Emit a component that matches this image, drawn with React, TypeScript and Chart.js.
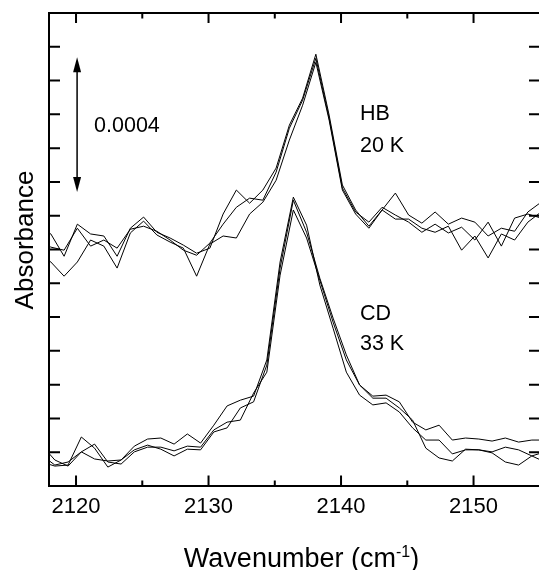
import React, { useEffect, useRef } from "react";
import { Chart, registerables } from "chart.js";

Chart.register(...registerables);

const FONT = "'Liberation Sans', Arial, Helvetica, sans-serif";

// HB spectra (20 K), absorbance in units of 1e-4
const hbWavenumbers = [
  2117.1, 2118.1, 2119.1, 2120.1, 2121.1, 2122.1, 2123.1, 2124.1, 2125.1, 2126.1,
  2127.1, 2128.1, 2129.1, 2130.1, 2131.1, 2132.1, 2133.1, 2134.1, 2135.1, 2136.1,
  2137.1, 2138.1, 2139.1, 2140.1, 2141.1, 2142.1, 2143.1, 2144.1, 2145.1, 2146.1,
  2147.1, 2148.1, 2149.1, 2150.1, 2151.1, 2152.1, 2153.1, 2154.1, 2155.1,
];
const hbScan1 = [
  7.72, 7.46, 6.8, 7.75, 7.46, 7.4, 6.8, 7.63, 7.96, 7.51,
  7.34, 7.13, 6.89, 7.04, 8.05, 8.76, 8.37, 8.76, 9.41, 10.68,
  11.48, 12.78, 10.98, 8.91, 8.17, 7.69, 8.17, 8.67, 8.02, 7.78,
  8.11, 7.75, 7.93, 7.81, 7.4, 7.63, 7.54, 8.11, 8.4,
];
const hbScan2 = [
  7.28, 7.07, 6.98, 7.63, 7.1, 7.28, 7.04, 7.6, 7.69, 7.54,
  7.28, 6.98, 6.83, 7.19, 7.75, 8.25, 8.52, 8.46, 9.29, 10.59,
  11.42, 12.66, 10.89, 8.82, 8.11, 7.81, 8.25, 8.02, 7.81, 7.51,
  7.75, 7.49, 7.66, 7.28, 7.81, 7.1, 7.93, 8.05, 7.93,
];
const hbScan3 = [
  6.98, 6.63, 6.21, 6.63, 7.28, 7.1, 6.45, 7.49, 7.84, 7.43,
  7.22, 7.04, 6.21, 7.16, 7.4, 7.34, 8.05, 8.4, 9.05, 10.24,
  11.27, 12.54, 10.83, 8.76, 8.05, 7.63, 8.17, 7.9, 7.9, 7.63,
  7.51, 7.69, 6.98, 7.4, 6.75, 7.46, 7.28, 7.81, 8.11,
];

// CD spectra (33 K), absorbance in units of 1e-4
const cdWavenumbers = [
  2117.4, 2118.4, 2119.4, 2120.4, 2121.4, 2122.4, 2123.4, 2124.4, 2125.4, 2126.4,
  2127.4, 2128.4, 2129.4, 2130.4, 2131.4, 2132.4, 2133.4, 2134.4, 2135.4, 2136.4,
  2137.4, 2138.4, 2139.4, 2140.4, 2141.4, 2142.4, 2143.4, 2144.4, 2145.4, 2146.4,
  2147.4, 2148.4, 2149.4, 2150.4, 2151.4, 2152.4, 2153.4, 2154.4, 2155.4,
];
const cdScan1 = [
  0.92, 0.62, 0.71, 1.01, 0.8, 0.74, 0.77, 1.07, 1.21, 1.09,
  0.89, 1.09, 1.07, 1.6, 1.72, 2.31, 2.49, 3.58, 6.45, 8.46,
  7.51, 6.15, 4.97, 3.88, 2.99, 2.66, 2.69, 2.49, 1.89, 1.66,
  1.8, 1.36, 1.42, 1.39, 1.33, 1.42, 1.3, 1.36, 1.36,
];
const cdScan2 = [
  0.71, 0.59, 0.62, 1.45, 1.12, 0.56, 0.77, 1.18, 1.39, 1.42,
  1.24, 1.54, 1.27, 1.8, 2.37, 2.54, 2.66, 3.73, 6.63, 8.55,
  7.72, 5.95, 4.67, 3.37, 2.69, 2.4, 2.46, 2.19, 1.72, 1.36,
  1.36, 0.95, 1.07, 1.07, 1.01, 1.15, 1.07, 0.89, 0.71,
];
const cdScan3 = [
  1.21, 0.77, 0.59, 1.01, 1.24, 0.71, 0.65, 1.01, 1.15, 1.15,
  1.04, 1.18, 1.15, 1.66, 1.89, 1.95, 2.75, 3.37, 6.24, 8.17,
  7.34, 6.09, 4.85, 3.73, 2.99, 2.6, 2.6, 2.31, 1.95, 1.12,
  0.83, 0.74, 1.09, 1.07, 0.98, 0.71, 0.62, 0.89, 1.01,
];

// axes
const xMin = 2117.96;
const xMax = 2154.94;
const yMin = 0;
const yMax = 14;
const xMajorTicks = [2120, 2130, 2140, 2150];
const xMinorTicks = [2125, 2135, 2145];
const yTickValues = [1, 2, 3, 4, 5, 6, 7, 8, 9, 10, 11, 12, 13];

// annotations
const annotationLabels = ["0.0004", "HB", "20 K", "CD", "33 K"];
const annotationX = [2121.36, 2141.43, 2141.43, 2141.43, 2141.43];
const annotationY = [10.47, 10.83, 9.88, 4.91, 4.02];
const scaleArrowX = 2120.08;
const scaleArrowFrom = 8.7;
const scaleArrowTo = 12.69;

const toPoints = (xs: number[], ys: number[]) => xs.map((x, i) => ({ x, y: ys[i] }));

const framePlugin = {
  id: "frameAndLabels",
  afterDraw(chart: any) {
    const { ctx, chartArea: a, scales } = chart;
    const xs = scales.x;
    const ys = scales.y;
    ctx.save();
    ctx.strokeStyle = "#000";
    ctx.fillStyle = "#000";
    ctx.lineWidth = 2;
    ctx.lineCap = "butt";
    // frame (right edge lies outside the picture)
    ctx.beginPath();
    ctx.moveTo(a.right + 2, a.top);
    ctx.lineTo(a.left, a.top);
    ctx.lineTo(a.left, a.bottom);
    ctx.lineTo(a.right + 2, a.bottom);
    ctx.stroke();
    // inward ticks
    ctx.beginPath();
    for (const v of xMajorTicks) {
      const px = xs.getPixelForValue(v);
      ctx.moveTo(px, a.bottom);
      ctx.lineTo(px, a.bottom - 10.5);
      ctx.moveTo(px, a.top);
      ctx.lineTo(px, a.top + 10);
    }
    for (const v of xMinorTicks) {
      const px = xs.getPixelForValue(v);
      ctx.moveTo(px, a.bottom);
      ctx.lineTo(px, a.bottom - 5.5);
      ctx.moveTo(px, a.top);
      ctx.lineTo(px, a.top + 5.5);
    }
    for (const v of yTickValues) {
      const py = ys.getPixelForValue(v);
      ctx.moveTo(a.left, py);
      ctx.lineTo(a.left + 11, py);
      ctx.moveTo(a.right, py);
      ctx.lineTo(a.right - 10, py);
    }
    ctx.stroke();

    // double-headed scale arrow
    const ax = xs.getPixelForValue(scaleArrowX);
    const yTop = ys.getPixelForValue(scaleArrowTo);
    const yBot = ys.getPixelForValue(scaleArrowFrom);
    const head = 15;
    const half = 4;
    ctx.lineWidth = 1.5;
    ctx.beginPath();
    ctx.moveTo(ax, yTop + head - 2);
    ctx.lineTo(ax, yBot - head + 2);
    ctx.stroke();
    ctx.beginPath();
    ctx.moveTo(ax, yTop);
    ctx.lineTo(ax - half, yTop + head);
    ctx.lineTo(ax + half, yTop + head);
    ctx.closePath();
    ctx.fill();
    ctx.beginPath();
    ctx.moveTo(ax, yBot);
    ctx.lineTo(ax - half, yBot - head);
    ctx.lineTo(ax + half, yBot - head);
    ctx.closePath();
    ctx.fill();

    // annotation texts
    ctx.font = `21.5px ${FONT}`;
    ctx.textAlign = "left";
    ctx.textBaseline = "alphabetic";
    annotationLabels.forEach((t, i) => {
      ctx.fillText(t, xs.getPixelForValue(annotationX[i]), ys.getPixelForValue(annotationY[i]));
    });

    // x axis title with superscript
    const mainSize = 27;
    const supSize = 16;
    const part1 = "Wavenumber (cm";
    const sup = "-1";
    const part3 = ")";
    ctx.font = `${mainSize}px ${FONT}`;
    const w1 = ctx.measureText(part1).width;
    const w3 = ctx.measureText(part3).width;
    ctx.font = `${supSize}px ${FONT}`;
    const w2 = ctx.measureText(sup).width;
    const total = w1 + w2 + w3;
    const cx = (a.left + a.right) / 2 + 7.5;
    const base = 567;
    let x0 = cx - total / 2;
    ctx.font = `${mainSize}px ${FONT}`;
    ctx.fillText(part1, x0, base);
    x0 += w1;
    ctx.font = `${supSize}px ${FONT}`;
    ctx.fillText(sup, x0, base - 10);
    x0 += w2;
    ctx.font = `${mainSize}px ${FONT}`;
    ctx.fillText(part3, x0, base);

    // y axis title
    ctx.save();
    ctx.translate(33, (a.top + a.bottom) / 2 - 9.5);
    ctx.rotate(-Math.PI / 2);
    ctx.font = `26px ${FONT}`;
    ctx.textAlign = "center";
    ctx.fillText("Absorbance", 0, 0);
    ctx.restore();

    ctx.restore();
  },
};

export default function App() {
  const canvasRef = useRef<HTMLCanvasElement | null>(null);

  useEffect(() => {
    if (!canvasRef.current) return;
    const lineStyle = {
      borderColor: "#000",
      borderWidth: 1,
      pointRadius: 0,
      fill: false,
      tension: 0,
    };
    const chart = new Chart(canvasRef.current, {
      type: "line",
      data: {
        datasets: [
          { ...lineStyle, label: "HB 1", data: toPoints(hbWavenumbers, hbScan1) },
          { ...lineStyle, label: "HB 2", data: toPoints(hbWavenumbers, hbScan2) },
          { ...lineStyle, label: "HB 3", data: toPoints(hbWavenumbers, hbScan3) },
          { ...lineStyle, label: "CD 1", data: toPoints(cdWavenumbers, cdScan1) },
          { ...lineStyle, label: "CD 2", data: toPoints(cdWavenumbers, cdScan2) },
          { ...lineStyle, label: "CD 3", data: toPoints(cdWavenumbers, cdScan3) },
        ],
      },
      options: {
        animation: false,
        responsive: false,
        maintainAspectRatio: false,
        devicePixelRatio: 1,
        layout: { padding: { top: 13, right: 0, left: 0, bottom: 0 } },
        plugins: {
          legend: { display: false },
          tooltip: { enabled: false },
          title: { display: false },
        },
        scales: {
          x: {
            type: "linear",
            position: "bottom",
            min: xMin,
            max: xMax,
            grid: { display: false, drawTicks: false },
            border: { display: false },
            ticks: {
              stepSize: 10,
              includeBounds: false,
              autoSkip: false,
              maxRotation: 0,
              padding: 8,
              color: "#000",
              font: { family: FONT, size: 22 },
              callback: (v: any) => String(v),
            },
            afterFit: (s: any) => {
              s.height = 84;
            },
          },
          y: {
            type: "linear",
            min: yMin,
            max: yMax,
            grid: { display: false, drawTicks: false },
            border: { display: false },
            ticks: { display: false, stepSize: 1 },
            afterFit: (s: any) => {
              s.width = 49;
            },
          },
        },
      },
      plugins: [framePlugin],
    } as any);
    return () => chart.destroy();
  }, []);

  return (
    <div
      style={{
        position: "absolute",
        left: 0,
        top: 0,
        width: 539,
        height: 570,
        background: "#fff",
        overflow: "hidden",
      }}
    >
      <canvas ref={canvasRef} width={539} height={570} style={{ display: "block", width: 539, height: 570 }} />
    </div>
  );
}
